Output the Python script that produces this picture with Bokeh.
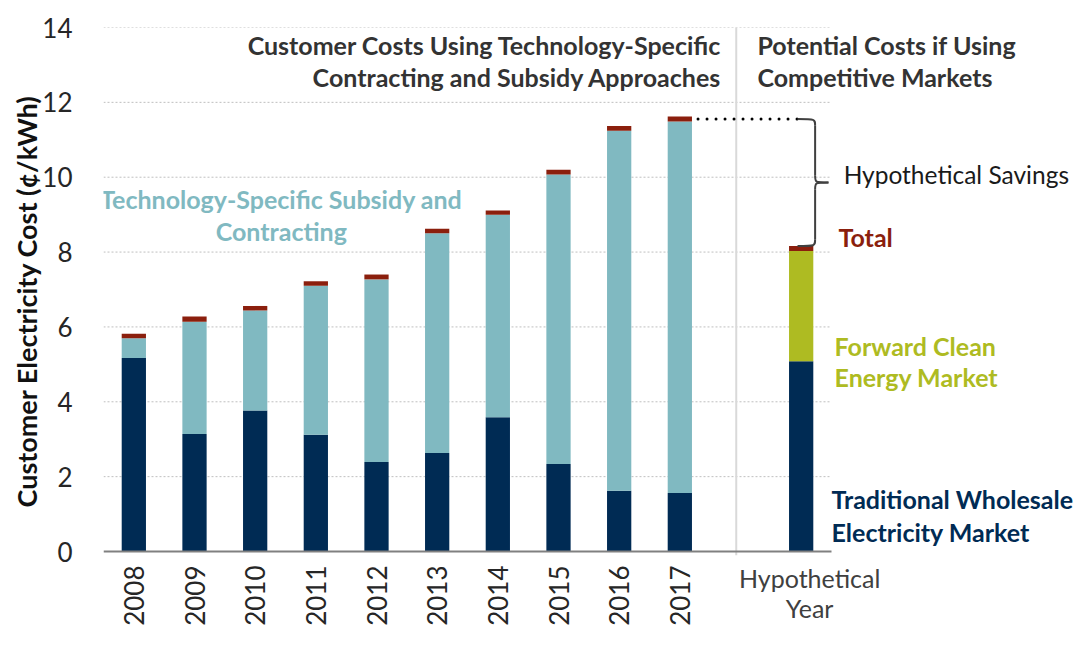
import math
from bokeh.plotting import figure
from bokeh.models import ColumnDataSource, FixedTicker, Label, Range1d, Title
from bokeh.core.properties import value
from bokeh.embed import file_html
from bokeh.resources import INLINE

# ---------------- data ----------------
years = ["2008", "2009", "2010", "2011", "2012", "2013", "2014", "2015", "2016", "2017"]
traditional = [5.17, 3.14, 3.77, 3.12, 2.39, 2.63, 3.59, 2.34, 1.62, 1.56]
tech_specific = [0.53, 3.00, 2.67, 3.98, 4.88, 5.87, 5.41, 7.73, 9.62, 9.93]
other_costs = [0.12, 0.14, 0.12, 0.12, 0.13, 0.12, 0.11, 0.13, 0.13, 0.13]

hyp_traditional = 5.08
hyp_forward = 2.95
hyp_other = 0.13

y_ticks = [0, 2, 4, 6, 8, 10, 12, 14]

# ---------------- style / layout ----------------
NAVY = "#002B54"
TEAL = "#80B9C1"
GREEN = "#AEBB22"
RED = "#8B1F0D"
DARK = "#333333"
FONT = "Lato"
FS = "25px"

W, H = 1076, 650
LEFT, TOP = 103, 27          # frame offsets in px
PLOT_W, PLOT_H = 728, 524    # width of the 12 category slots, height of 0..14

n = len(years)
x_years = list(range(n))
x_hyp = n + 1
n_slots = n + 2
bar_w = 0.4

px_x = PLOT_W / n_slots
px_y = PLOT_H / 14.0
x_start = -0.5
x_end = x_start + (W - LEFT) / px_x
y_top = 14
y_bottom = y_top - (H - TOP) / px_y
slot_end = x_start + n_slots

src = ColumnDataSource(dict(
    x=x_years + [x_hyp],
    trad=traditional + [hyp_traditional],
    tech=tech_specific + [0.0],
    fwd=[0.0] * n + [hyp_forward],
    other=other_costs + [hyp_other],
))

p = figure(width=W, height=H, output_backend="svg", toolbar_location=None,
           x_range=Range1d(x_start, x_end), y_range=Range1d(y_bottom, y_top),
           x_axis_location=None,
           min_border_left=LEFT, min_border_right=0, min_border_top=TOP, min_border_bottom=0)
p.outline_line_color = None
p.background_fill_color = "white"
p.border_fill_color = "white"
p.xgrid.visible = False
p.ygrid.visible = False

# dotted gridlines limited to the category area
grid_y = [t for t in y_ticks if t > 0]
p.segment(x0=[x_start] * len(grid_y), x1=[slot_end] * len(grid_y), y0=grid_y, y1=grid_y,
          line_color="#BFBFBF", line_width=1, line_dash="2 2")

# divider between the two sections
div_x = n - 0.07
p.segment(x0=[div_x], x1=[div_x], y0=[-0.1], y1=[y_top], line_color="#D9D9D9", line_width=2)

p.vbar_stack(["trad", "tech", "fwd", "other"], x="x", width=bar_w, source=src,
             fill_color=[NAVY, TEAL, GREEN, RED], line_color=None)

# x axis line and year labels
p.segment(x0=[x_start], x1=[slot_end], y0=[0], y1=[0], line_color="#808080", line_width=2)
p.text(x=x_years, y=[0] * n, text=years, angle=math.pi / 2, text_align="right",
       text_baseline="middle", y_offset=14, text_font=value(FONT), text_font_size="26px",
       text_color="#262626")

# y axis
p.yaxis.ticker = FixedTicker(ticks=y_ticks)
p.yaxis.axis_line_color = None
p.yaxis.major_tick_line_color = None
p.yaxis.minor_tick_line_color = None
p.yaxis.major_label_text_font = FONT
p.yaxis.major_label_text_font_size = "26px"
p.yaxis.major_label_text_color = "#262626"
p.yaxis.major_label_standoff = 25

# y axis title: starts a little above 0 and reads upwards
p.add_layout(Title(text="Customer Electricity Cost (¢/kWh)", align="left",
                   offset=(H - TOP - PLOT_H) + 44,
                   text_font=FONT, text_font_size="27px", text_font_style="bold",
                   text_color="#111111", standoff=-7), "left")

# savings dotted line and brace
total_2017 = traditional[-1] + tech_specific[-1] + other_costs[-1]
level = total_2017 - other_costs[-1] / 2
hyp_total = hyp_traditional + hyp_forward + hyp_other
p.line(x=[x_years[-1] + bar_w / 2 + 0.1, x_hyp - 0.06], y=[level, level],
       line_color="black", line_width=3, line_dash="0 9", line_cap="round")

bl, bv, bt = x_hyp - 0.06, x_hyp + 0.23, x_hyp + 0.45
top, bot = level, hyp_total
mid = (top + bot) / 2
r = 0.18
BR = "#404040"
p.bezier(x0=[bl, bv, bt, bv], y0=[top, mid + r, mid, bot + r],
         x1=[bv, bt, bv, bl], y1=[top - r, mid, mid - r, bot],
         cx0=[bv, bv, bv, bv], cy0=[top, mid, mid, bot],
         cx1=[bv, bv, bv, bv], cy1=[top, mid, mid, bot],
         line_color=BR, line_width=2)
p.segment(x0=[bv, bv], y0=[top - r, mid - r], x1=[bv, bv], y1=[mid + r, bot + r],
          line_color=BR, line_width=2)


def lab(x, y, text, color, align="left", style="bold", size=FS):
    p.add_layout(Label(x=x, y=y, text=text, text_color=color, text_align=align,
                       text_baseline="middle", text_font=FONT, text_font_size=size,
                       text_font_style=style))


lab(9.69, 13.52, "Customer Costs Using Technology-Specific", DARK, align="right")
lab(9.69, 12.68, "Contracting and Subsidy Approaches", DARK, align="right")
lab(10.28, 13.52, "Potential Costs if Using", DARK)
lab(10.28, 12.68, "Competitive Markets", DARK)
lab(2.43, 9.43, "Technology-Specific Subsidy and", TEAL, align="center")
lab(2.43, 8.55, "Contracting", TEAL, align="center")
lab(11.70, 10.07, "Hypothetical Savings", "#1a1a1a", style="normal", size="24.5px")
lab(11.615, 8.39, "Total", RED)
lab(11.55, 5.50, "Forward Clean", GREEN)
lab(11.55, 4.65, "Energy Market", GREEN)
lab(11.50, 1.39, "Traditional Wholesale", NAVY)
lab(11.50, 0.53, "Electricity Market", NAVY)
lab(11.14, -0.72, "Hypothetical", "#404040", align="center", style="normal")
lab(11.14, -1.52, "Year", "#404040", align="center", style="normal")

open("out.html", "w").write(file_html(p, INLINE))
